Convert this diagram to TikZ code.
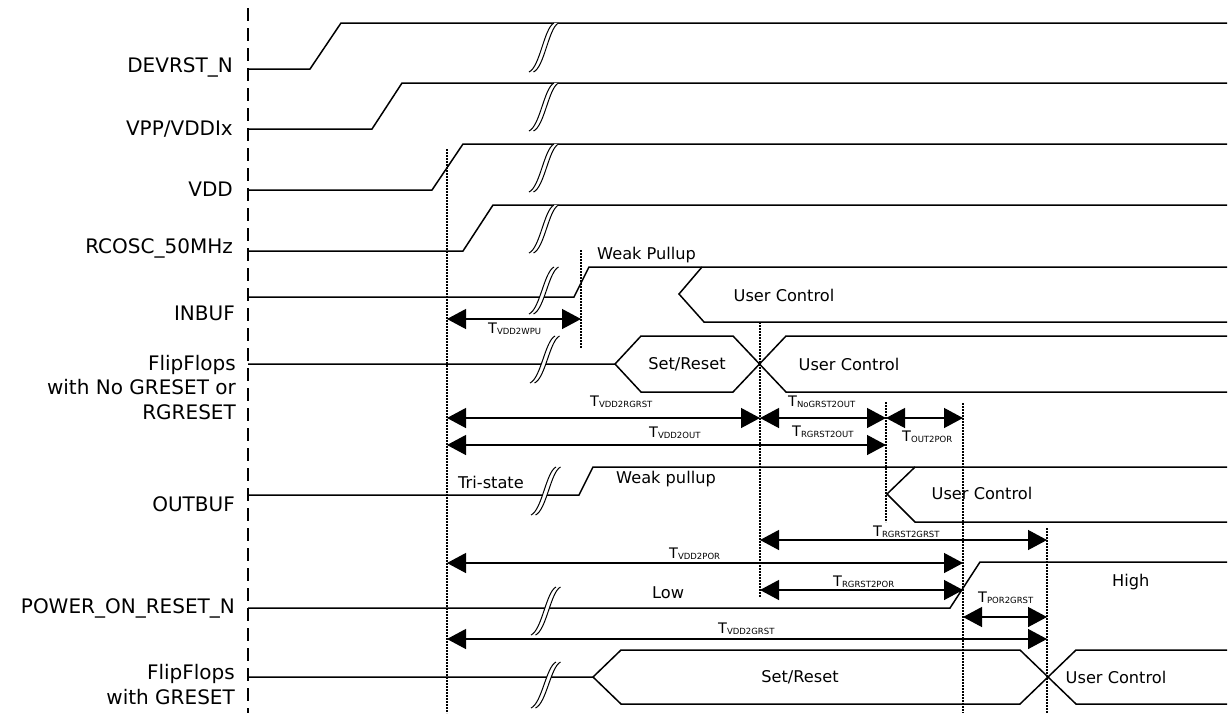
\documentclass[tikz,border=0pt]{standalone}
\usepackage{fontspec}
\setmainfont{DejaVu Sans}
\usetikzlibrary{arrows.meta}
\newcommand\tlab[1]{{\fontsize{14.5}{15}\selectfont T}{\fontsize{8.5}{9}\selectfont\raisebox{-1.5pt}{#1}}}
\newcommand\brkmark[3]{% x centre, y top, y bottom
  \fill[white] (#1-14,#3) .. controls (#1-3,#3-5) and (#1+1,#2+5) .. (#1+11,#2) -- (#1+15.5,#2) .. controls (#1+5.5,#2+5) and (#1+1.5,#3-5) .. (#1-9.5,#3) -- cycle;
  \draw[brkline] (#1-14,#3) .. controls (#1-3,#3-5) and (#1+1,#2+5) .. (#1+11,#2);
  \draw[brkline] (#1-9.5,#3) .. controls (#1+1.5,#3-5) and (#1+5.5,#2+5) .. (#1+15.5,#2);
}
\tikzset{
  sig/.style={line width=1.5pt, line join=miter},
  brkline/.style={line width=1pt},
  dotv/.style={line width=1.2pt, dash pattern=on 1.6pt off 1.4pt},
  axisline/.style={line width=1.5pt, dash pattern=on 13pt off 7pt},
  tarr/.style={line width=1.3pt, {Triangle[length=19pt,width=20pt]}-{Triangle[length=19pt,width=20pt]}},
  sname/.style={font=\fontsize{20}{24.5}\selectfont, anchor=east, align=right, inner sep=0pt},
  intext/.style={font=\fontsize{16.2}{19}\selectfont, inner sep=0pt},
  tl/.style={anchor=west, inner sep=0pt},
}
\begin{document}
\begin{tikzpicture}[x=1pt,y=-1pt]
\useasboundingbox (0,0) rectangle (1230,713);
\fill[white] (0,0) rectangle (1230,713);

% left axis
\coordinate (axt) at (248,8);
\coordinate (axb) at (248,713);
\draw[axisline] (axt) -- (axb);

% signal names
\node[sname] (nDEV) at (233,67) {DEVRST\_N};
\node[sname] (nVPP) at (233,129) {VPP/VDDIx};
\node[sname] (nVDD) at (233,189) {VDD};
\node[sname] (nRC) at (233,248) {RCOSC\_50MHz};
\node[sname] (nIN) at (235,313) {INBUF};
\node[sname] (nFF1) at (236,387.5) {FlipFlops\\with No GRESET or\\RGRESET};
\node[sname] (nOUT) at (235,504) {OUTBUF};
\node[sname] (nPOR) at (235,608) {POWER\_ON\_RESET\_N};
\node[sname] (nFF2) at (235,684.5) {FlipFlops\\with GRESET};

% waveforms
\draw[sig] (248,69) -- (310,69) -- (341,23) -- (1227,23);
\draw[sig] (248,129) -- (372,129) -- (402,83) -- (1227,83);
\draw[sig] (248,190) -- (432,190) -- (463,144) -- (1227,144);
\draw[sig] (248,251) -- (463,251) -- (493,205) -- (1227,205);
% INBUF
\draw[sig] (248,297) -- (574,297) -- (589,267) -- (1227,267);
\draw[sig] (1227,322) -- (704,322) -- (679,294) -- (702,267);
% FlipFlops no GRESET
\draw[sig] (248,364) -- (615,364) -- (641,336) -- (733,336) -- (786,392) -- (1227,392);
\draw[sig] (615,364) -- (641,392) -- (733,392) -- (786,336) -- (1227,336);
% OUTBUF
\draw[sig] (248,495) -- (579,495) -- (593,467) -- (1227,467);
\draw[sig] (1227,522) -- (915,522) -- (887,494) -- (915,467);
% POWER_ON_RESET_N
\draw[sig] (248,608) -- (950,608) -- (980,562) -- (1227,562);
% FlipFlops with GRESET
\draw[sig] (248,677) -- (593,677) -- (621,650) -- (1020,650) -- (1076,704) -- (1227,704);
\draw[sig] (593,677) -- (621,704) -- (1020,704) -- (1076,650) -- (1227,650);

% break marks
\brkmark{543}{23}{72}
\brkmark{543}{83}{131}
\brkmark{543}{144}{192}
\brkmark{543}{205}{253}
\brkmark{543}{267}{314}
\brkmark{544}{336}{383}
\brkmark{545}{467}{515}
\brkmark{545}{587}{635}
\brkmark{545}{662}{708}

% texts inside the diagram
\node[intext, anchor=west] (tWPu) at (597,255) {Weak Pullup};
\node[intext] (tUC1) at (784,295) {User Control};
\node[intext] (tSR1) at (687,364) {Set/Reset};
\node[intext] (tUC2) at (849,364) {User Control};
\node[intext, anchor=west] (tTri) at (458,482) {Tri-state};
\node[intext, anchor=west] (tWpu) at (616,479) {Weak pullup};
\node[intext] (tUC3) at (982,493) {User Control};
\node[intext, anchor=west] (tLow) at (652,593) {Low};
\node[intext, anchor=west] (tHigh) at (1112,582) {High};
\node[intext] (tSR2) at (800,677) {Set/Reset};
\node[intext] (tUC4) at (1116,677) {User Control};

% dotted reference lines
\coordinate (vA) at (447,149);  \coordinate (vAb) at (447,713);
\coordinate (vB) at (581,250);  \coordinate (vBb) at (581,348);
\coordinate (vC) at (760,322);  \coordinate (vCb) at (760,597);
\coordinate (vD) at (886,402);  \coordinate (vDb) at (886,522);
\coordinate (vE) at (963,403);  \coordinate (vEb) at (963,713);
\coordinate (vF) at (1047,528); \coordinate (vFb) at (1047,713);
\foreach \a/\b in {vA/vAb,vB/vBb,vC/vCb,vD/vDb,vE/vEb,vF/vFb}
  \draw[dotv] (\a) -- (\b);

% timing arrows
\draw[tarr] (447,319) -- (581,319);
\draw[tarr] (447,418) -- (760,418);
\draw[tarr] (760,418) -- (886,418);
\draw[tarr] (886,418) -- (963,418);
\draw[tarr] (447,445) -- (886,445);
\draw[tarr] (760,540) -- (1047,540);
\draw[tarr] (447,563) -- (963,563);
\draw[tarr] (760,590) -- (963,590);
\draw[tarr] (963,617) -- (1047,617);
\draw[tarr] (447,639) -- (1047,639);

% timing labels
\node[tl] (lWPU) at (488,329) {\tlab{VDD2WPU}};
\node[tl] (lVR) at (590,402) {\tlab{VDD2RGRST}};
\node[tl] (lNO) at (788,402) {\tlab{NoGRST2OUT}};
\node[tl] (lOP) at (902,437) {\tlab{OUT2POR}};
\node[tl] (lVO) at (649,433) {\tlab{VDD2OUT}};
\node[tl] (lRO) at (792,432) {\tlab{RGRST2OUT}};
\node[tl] (lRG) at (873,532) {\tlab{RGRST2GRST}};
\node[tl] (lVP) at (669,554) {\tlab{VDD2POR}};
\node[tl] (lRP) at (833,582) {\tlab{RGRST2POR}};
\node[tl] (lPG) at (978,598) {\tlab{POR2GRST}};
\node[tl] (lVG) at (718,629) {\tlab{VDD2GRST}};
\end{tikzpicture}
\end{document}
